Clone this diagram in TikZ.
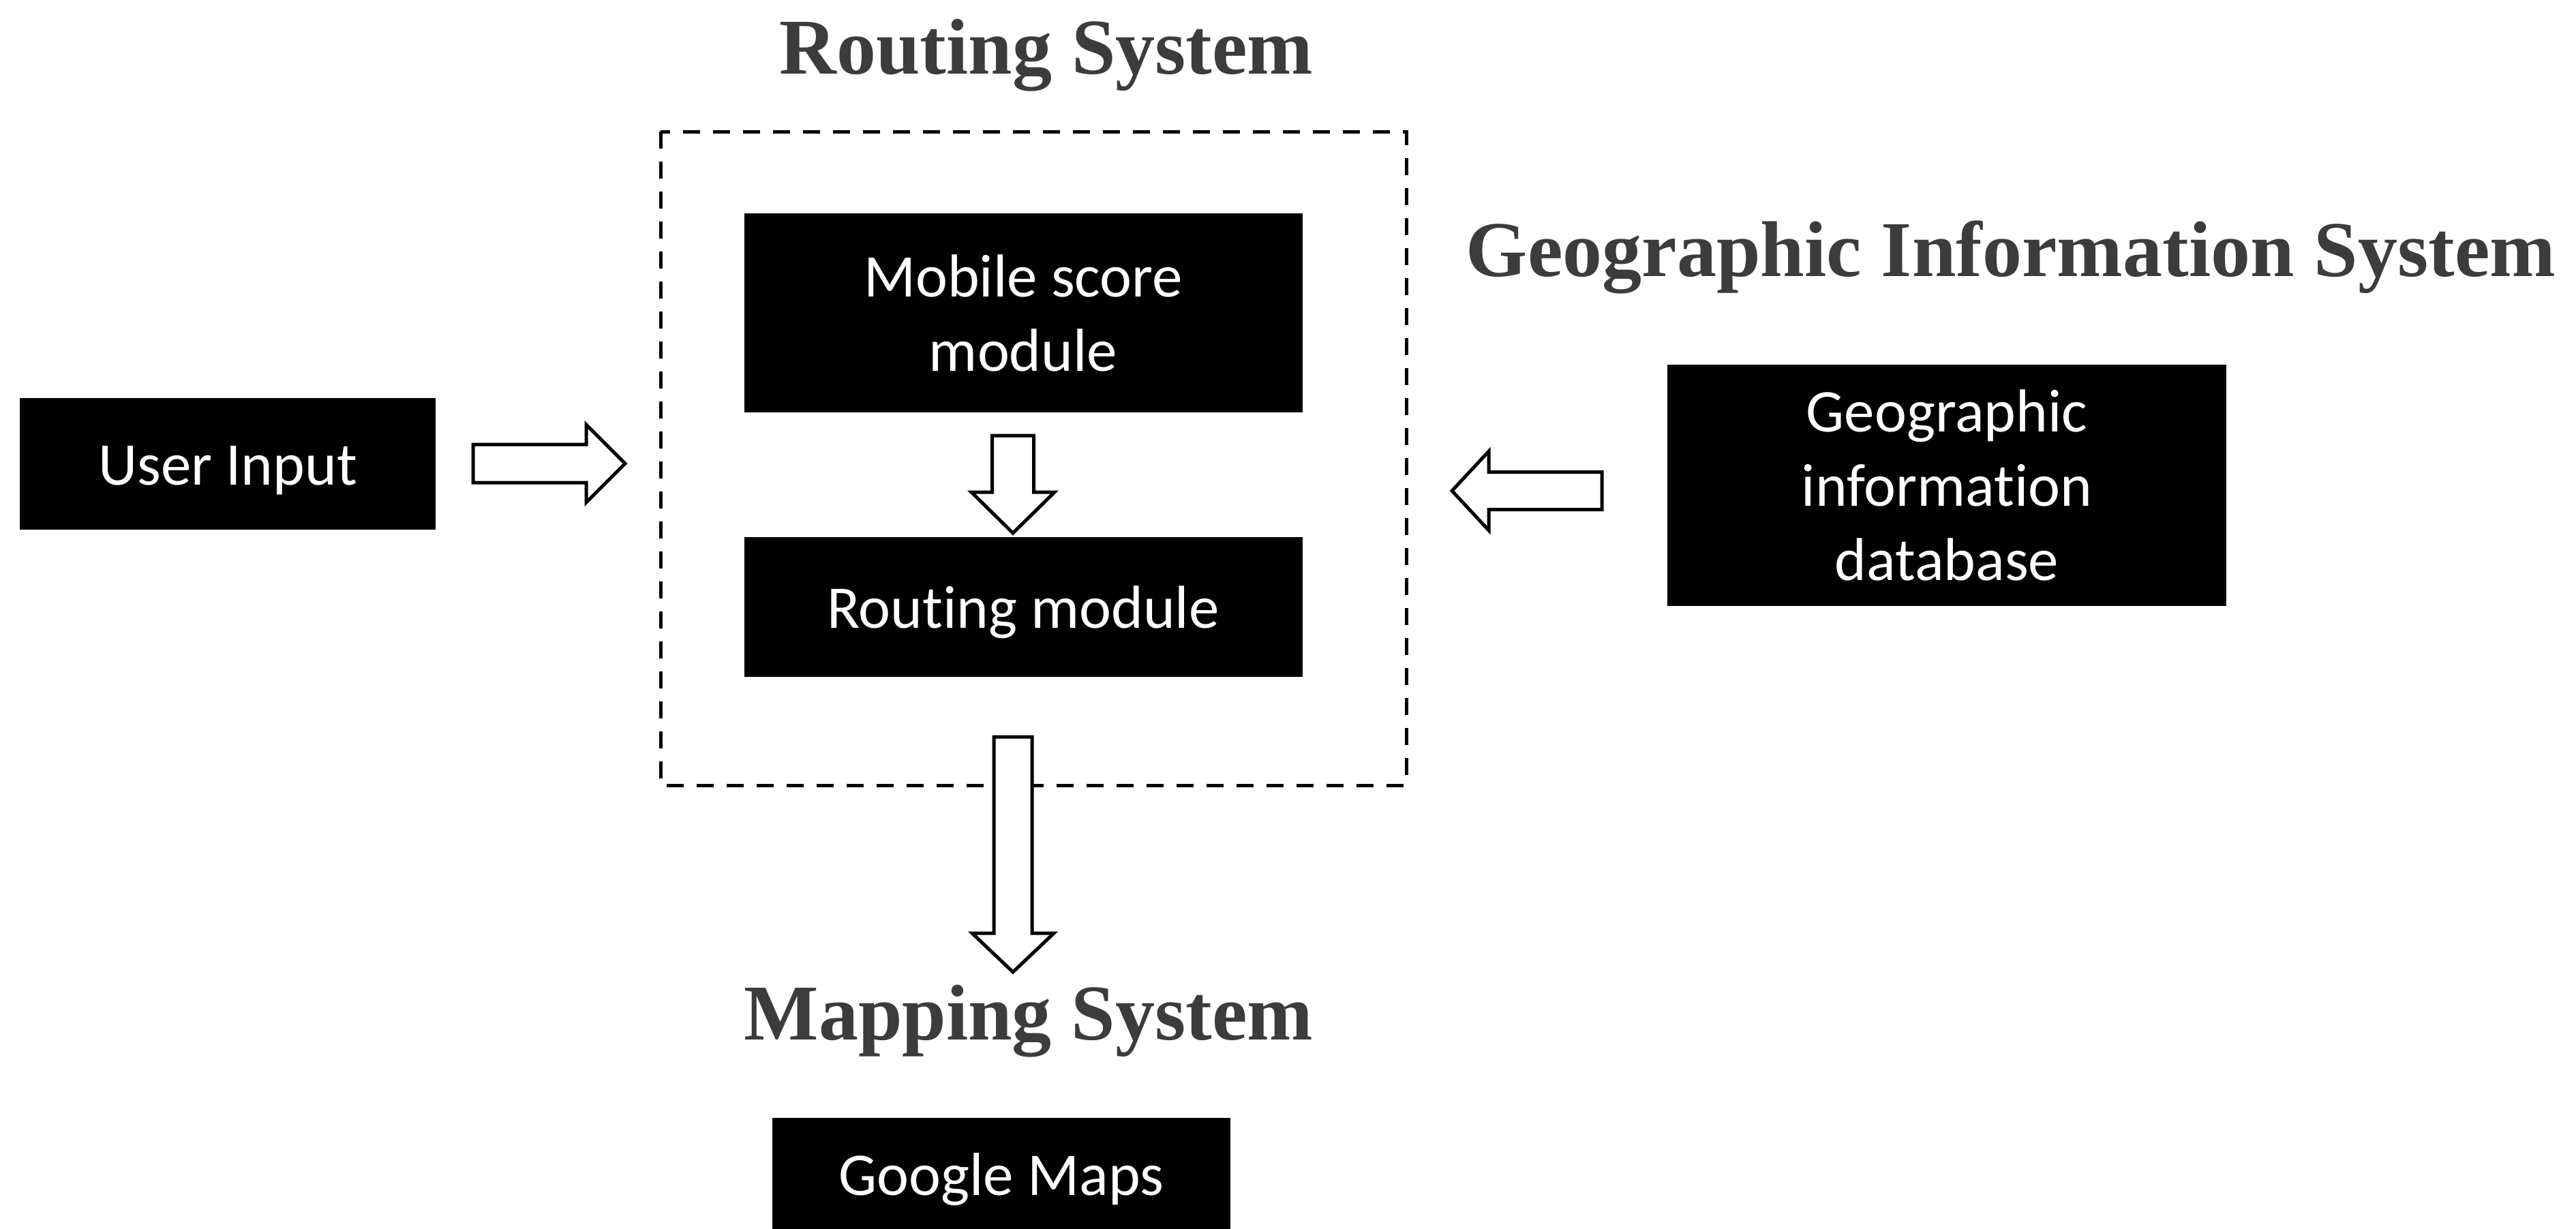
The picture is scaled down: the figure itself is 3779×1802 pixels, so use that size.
\documentclass[tikz,border=0pt]{standalone}
\usepackage{fontspec}
\setmainfont[Ligatures=NoCommon]{Carlito}
\newfontfamily\titlefont{Liberation Serif}
\definecolor{titlegray}{RGB}{60,60,60}
\begin{document}
\begin{tikzpicture}[x=0.2pt,y=-0.2pt,
  blackbox/.style={fill=black,draw=none,text=white,align=center,
    inner sep=0pt,font=\fontsize{17.8}{21.8}\selectfont},
  oneline/.style={text height=16pt,text depth=3.6pt},
  heading/.style={text=titlegray,inner sep=0pt,anchor=base,
    font=\titlefont\bfseries\fontsize{23.2}{27}\selectfont},
  arrowline/.style={draw=black,fill=white,line width=1pt,line join=miter},
  pics/blkarrow/.style args={#1/#2/#3/#4}{code={
    \draw[arrowline] (0,-#2) -- (#1-#4,-#2) -- (#1-#4,-#3) -- (#1,0)
      -- (#1-#4,#3) -- (#1-#4,#2) -- (0,#2) -- cycle;}}]
\useasboundingbox (0,0) rectangle (3779,1802);

% routing system frame
\draw[line width=1pt,dash pattern=on 5pt off 3.8pt] (969,193) rectangle (2063,1152);

% headings
\node[heading] (hroute) at (1535,108) {Routing System};
\node[heading] (hgis) at (2950,405) {Geographic Information System};
\node[heading] (hmap) at (1509,1525) {Mapping System};

% blocks
\node[blackbox,minimum width=163.8pt,minimum height=58.4pt] (score) at (1501,459) {Mobile score\\module};
\node[blackbox,oneline,minimum width=163.8pt,minimum height=41pt] (routing) at (1501,890) {Routing module};
\node[blackbox,oneline,minimum width=122pt,minimum height=38.6pt] (user) at (334,680) {User Input};
\node[blackbox,minimum width=164pt,minimum height=70.8pt] (geo) at (2856,712) {Geographic\\information\\database};
\node[blackbox,oneline,minimum width=134.4pt,minimum height=33pt] (gmaps) at (1469,1722) {Google Maps};

% block arrows
\coordinate (a1) at (694,680);
\coordinate (a2) at (1486,639);
\coordinate (a3) at (2350,720);
\coordinate (a4) at (1486,1081);
\pic at (a1) {blkarrow={223/28/57/57}};
\pic[rotate=-90] at (a2) {blkarrow={143/30.5/61/60}};
\pic[rotate=180] at (a3) {blkarrow={220/27.5/58/54}};
\pic[rotate=-90] at (a4) {blkarrow={345/28/60/57}};
\end{tikzpicture}
\end{document}
